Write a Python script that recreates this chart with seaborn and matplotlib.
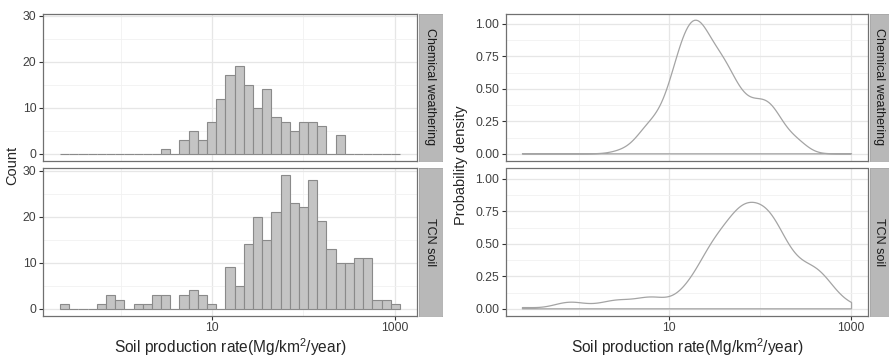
import numpy as np
import matplotlib
matplotlib.use("Agg")
import matplotlib.pyplot as plt
import seaborn as sns
from matplotlib.ticker import FixedLocator, FixedFormatter, NullFormatter

# ---------------- data ----------------
# histogram bin centres, log10 of soil production rate (Mg/km2/year)
bin_log_centers = [-0.62, -0.52, -0.42, -0.32, -0.22, -0.12, -0.01, 0.09, 0.19,
                   0.29, 0.39, 0.49, 0.59, 0.69, 0.79, 0.89, 0.99, 1.09, 1.19,
                   1.30, 1.40, 1.50, 1.60, 1.70, 1.80, 1.90, 2.00, 2.10, 2.20,
                   2.30, 2.40, 2.51, 2.61, 2.71, 2.81, 2.91, 3.01]
chem_counts = [0, 0, 0, 0, 0, 0, 0, 0, 0, 0, 0,
               1, 0, 3, 5, 3, 7, 12, 17, 19, 15, 10, 14, 8, 7, 5, 7, 7, 6, 0, 4,
               0, 0, 0, 0, 0, 0]
tcn_counts = [1, 0, 0, 0, 1, 3, 2, 0, 1, 1,
              3, 3, 0, 3, 4, 3, 1, 0, 9, 5,
              14, 20, 15, 21, 29, 23, 22, 28, 19, 13,
              10, 10, 11, 11, 2, 2, 1]
panel_names = ["Chemical weathering", "TCN soil"]
n_bins = 37
bin_range = (-0.67, 3.06)

x_major = [10, 1000]
x_labels = ["10", "1000"]
x_minor = [1, 100]
count_major = [0, 10, 20, 30]
count_minor = [5, 15, 25]
dens_major = [0.0, 0.25, 0.50, 0.75, 1.00]
dens_labels = ["0.00", "0.25", "0.50", "0.75", "1.00"]
dens_minor = [0.125, 0.375, 0.625, 0.875]

xlab = r"Soil production rate(Mg/km$^{2}$/year)"

# samples rebuilt from the histogram counts
groups = {}
for name, cnt in zip(panel_names, [chem_counts, tcn_counts]):
    logs = np.repeat(np.array(bin_log_centers), cnt)
    groups[name] = logs
all_logs = np.concatenate(list(groups.values()))
clip = (all_logs.min(), all_logs.max())


def nrd0_adjust(v):
    sd = np.std(v, ddof=1)
    q75, q25 = np.percentile(v, [75, 25])
    return 0.9 * min(sd, (q75 - q25) / 1.34) / sd


# ---------------- style ----------------
sns.set_style("white")
plt.rcParams["font.family"] = ["Liberation Sans", "DejaVu Sans"]
plt.rcParams["mathtext.fontset"] = "custom"
plt.rcParams["mathtext.rm"] = "Liberation Sans"
plt.rcParams["mathtext.it"] = "Liberation Sans:italic"
plt.rcParams["mathtext.bf"] = "Liberation Sans:bold"

W, H = 889, 359
fig = plt.figure(figsize=(W / 100, H / 100), dpi=100)


def rect(x0, y0, x1, y1):
    return [x0 / W, 1 - y1 / H, (x1 - x0) / W, (y1 - y0) / H]


BORDER = "#707070"
GRID = "#e6e6e6"
GRID_MINOR = "#f1f1f1"
TICKCOL = "#404040"
STRIP = "#b8b8b8"
LINE = "#a4a4a4"


def style_panel(ax, show_x, tick_size):
    for s in ax.spines.values():
        s.set_color(BORDER)
        s.set_linewidth(0.9)
    ax.set_axisbelow(True)
    ax.grid(which="major", color=GRID, linewidth=0.9)
    ax.grid(which="minor", color=GRID_MINOR, linewidth=0.6)
    ax.tick_params(which="major", length=3.2, width=0.8, color="#333333",
                   labelsize=tick_size, labelcolor=TICKCOL, pad=1.5,
                   left=True, bottom=show_x, labelbottom=show_x)
    ax.tick_params(which="minor", length=0, left=False, bottom=False)
    ax.set_xlabel("")
    ax.set_ylabel("")


def add_strip(x0, y0, x1, y1, label):
    sax = fig.add_axes(rect(x0, y0, x1, y1))
    sax.set_facecolor(STRIP)
    for s in sax.spines.values():
        s.set_color("#a8a8a8")
        s.set_linewidth(0.6)
    sax.set_xticks([])
    sax.set_yticks([])
    sax.text(0.5, 0.5, label, rotation=-90, ha="center", va="center",
             fontsize=9, color="#1a1a1a", transform=sax.transAxes)


# panel geometry (pixels)
rows = [(13.5, 160.5), (168.5, 315.5)]
left_x = (43, 417)
right_x = (506, 868)

# ---------------- left: histograms ----------------
ax_h0 = fig.add_axes(rect(left_x[0], rows[0][0], left_x[1], rows[0][1]))
ax_h1 = fig.add_axes(rect(left_x[0], rows[1][0], left_x[1], rows[1][1]),
                     sharex=ax_h0, sharey=ax_h0)
hist_axes = [ax_h0, ax_h1]
for ax, name in zip(hist_axes, panel_names):
    sns.histplot(x=10 ** groups[name], log_scale=True, bins=n_bins,
                 binrange=bin_range, ax=ax, color="#c4c4c4",
                 edgecolor="#8a8a8a", linewidth=0.8, alpha=1)
for ax in hist_axes:
    ax.use_sticky_edges = False
    ax.margins(x=0.05, y=0.05)
for ax in hist_axes:
    ax.autoscale_view()

# ---------------- right: densities ----------------
ax_d0 = fig.add_axes(rect(right_x[0], rows[0][0], right_x[1], rows[0][1]))
ax_d1 = fig.add_axes(rect(right_x[0], rows[1][0], right_x[1], rows[1][1]),
                     sharex=ax_d0, sharey=ax_d0)
dens_axes = [ax_d0, ax_d1]
for ax, name in zip(dens_axes, panel_names):
    sns.kdeplot(x=10 ** groups[name], log_scale=True, ax=ax, fill=True,
                color=LINE, facecolor="none", edgecolor=LINE, linewidth=0.9,
                bw_adjust=nrd0_adjust(groups[name]), cut=10, clip=clip)
for ax in dens_axes:
    ax.use_sticky_edges = False
    ax.margins(x=0.05, y=0.05)
for ax in dens_axes:
    ax.autoscale_view()

# ---------------- ticks & styling ----------------
for i, ax in enumerate(hist_axes):
    ax.xaxis.set_major_locator(FixedLocator(x_major))
    ax.xaxis.set_major_formatter(FixedFormatter(x_labels))
    ax.xaxis.set_minor_locator(FixedLocator(x_minor))
    ax.xaxis.set_minor_formatter(NullFormatter())
    ax.yaxis.set_major_locator(FixedLocator(count_major))
    ax.yaxis.set_minor_locator(FixedLocator(count_minor))
    style_panel(ax, show_x=(i == 1), tick_size=8.8)

for i, ax in enumerate(dens_axes):
    ax.xaxis.set_major_locator(FixedLocator(x_major))
    ax.xaxis.set_major_formatter(FixedFormatter(x_labels))
    ax.xaxis.set_minor_locator(FixedLocator(x_minor))
    ax.xaxis.set_minor_formatter(NullFormatter())
    ax.yaxis.set_major_locator(FixedLocator(dens_major))
    ax.yaxis.set_major_formatter(FixedFormatter(dens_labels))
    ax.yaxis.set_minor_locator(FixedLocator(dens_minor))
    style_panel(ax, show_x=(i == 1), tick_size=8.8)

# strips
for (y0, y1), name in zip(rows, panel_names):
    add_strip(418.5, y0, 442, y1, name)
    add_strip(869.5, y0, 889, y1, name)

# axis titles
fig.text(12 / W, 1 - 165 / H, "Count", rotation=90, ha="center", va="center",
         fontsize=10.5)
fig.text(461 / W, 1 - 165 / H, "Probability density", rotation=90,
         ha="center", va="center", fontsize=10.5)
fig.text((left_x[0] + left_x[1]) / 2 / W, 1 - 347 / H, xlab, ha="center",
         va="center", fontsize=11.2)
fig.text((right_x[0] + right_x[1]) / 2 / W, 1 - 347 / H, xlab, ha="center",
         va="center", fontsize=11.2)

fig.savefig("out.png", dpi=100)
